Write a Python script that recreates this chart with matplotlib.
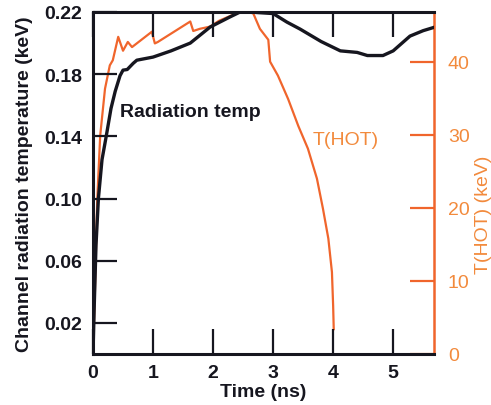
import matplotlib
matplotlib.use("Agg")
import matplotlib.pyplot as plt

# Radiation temperature (keV), left axis
rad_t = [0.0, 0.02, 0.05, 0.09, 0.15, 0.22, 0.30, 0.37, 0.45, 0.50, 0.57, 0.67, 0.73, 1.0,
         1.3, 1.62, 1.95, 2.28, 2.45, 2.6, 3.0, 3.23, 3.45, 3.8, 4.12, 4.4, 4.57, 4.83,
         5.0, 5.28, 5.5, 5.67]
rad_v = [0.0, 0.03, 0.07, 0.10, 0.125, 0.14, 0.158, 0.169, 0.179, 0.1826, 0.183, 0.187, 0.189,
         0.191, 0.195, 0.200, 0.2103, 0.2168, 0.22, 0.22, 0.219, 0.2135, 0.209, 0.201, 0.195,
         0.194, 0.192, 0.192, 0.195, 0.2045, 0.208, 0.21]

# T(HOT) (keV), right axis
hot_t = [0.0, 0.03, 0.07, 0.12, 0.2, 0.28, 0.33, 0.42, 0.5, 0.58, 0.65, 0.98, 1.03, 1.08,
         1.62, 1.67, 1.78, 1.95, 2.1, 2.5, 2.67, 2.78, 2.92, 2.95, 3.08, 3.25, 3.42, 3.58,
         3.73, 3.83, 3.92, 3.98, 4.0, 4.01]
hot_v = [0.0, 8.0, 21.0, 29.9, 36.3, 39.5, 40.2, 43.4, 41.5, 42.7, 42.0, 44.1, 42.5, 42.7,
         45.5, 44.2, 44.5, 44.8, 45.6, 47.0, 46.6, 44.5, 43.0, 40.0, 38.1, 34.9, 31.2, 28.1,
         24.0, 19.9, 15.8, 11.2, 6.6, 3.4]

x_ticks = [0, 1, 2, 3, 4, 5]
y_ticks = [0.02, 0.06, 0.10, 0.14, 0.18, 0.22]
y2_ticks = [0, 10, 20, 30, 40]

BLACK = '#16161f'
ORANGE = '#f0652c'
ORANGE_TXT = '#f28a3c'
FONT = 'Liberation Sans'
FS = 14

fig = plt.figure(figsize=(4.91, 4.06), dpi=100)
ax = fig.add_axes([93/491, 1-355/406, (434-93)/491, (355-13)/406])
ax2 = ax.twinx()

ax.plot(rad_t, rad_v, color=BLACK, lw=2.4, zorder=3)
ax2.plot(hot_t, hot_v, color=ORANGE, lw=1.6, zorder=2)
ax.set_zorder(ax2.get_zorder() + 1)
ax.patch.set_visible(False)

ax.set_xlim(0, 5.68)
ax.set_ylim(0, 0.22)
ax2.set_ylim(0, 46.8)

ax.set_xticks(x_ticks)
ax.set_xticklabels([str(v) for v in x_ticks], fontfamily=FONT, fontweight='bold', fontsize=FS)
ax.set_yticks(y_ticks)
ax.set_yticklabels([f"{v:.2f}" for v in y_ticks], fontfamily=FONT, fontweight='bold', fontsize=FS)
ax.tick_params(axis='x', direction='in', length=18, width=1.6, color=BLACK, pad=7,
               top=True, labelcolor=BLACK)
ax.tick_params(axis='y', direction='in', length=17, width=1.6, color=BLACK, pad=8,
               labelcolor=BLACK)

ax2.set_yticks(y2_ticks)
ax2.set_yticklabels([str(v) for v in y2_ticks], fontfamily=FONT, fontsize=FS)
ax2.tick_params(axis='y', direction='in', length=17, width=1.6, color=ORANGE, pad=10,
                labelcolor=ORANGE_TXT)

for s in ['left', 'bottom', 'top']:
    ax.spines[s].set_linewidth(2.2)
    ax.spines[s].set_color(BLACK)
ax.spines['right'].set_visible(False)
for s in ['left', 'bottom', 'top']:
    ax2.spines[s].set_visible(False)
ax2.spines['right'].set_color(ORANGE)
ax2.spines['right'].set_linewidth(1.8)

ax.set_xlabel('Time (ns)', fontfamily=FONT, fontweight='bold', fontsize=FS, color=BLACK, labelpad=2)
ax.set_ylabel('Channel radiation temperature (keV)', fontfamily=FONT, fontweight='bold',
              fontsize=FS, color=BLACK)
ax.yaxis.set_label_coords(-60/341, 0.5)
ax2.set_ylabel('T(HOT) (keV)', fontfamily=FONT, fontsize=FS, color=ORANGE_TXT)
ax2.yaxis.set_label_coords(1 + 41/341, 0.41)

ax.text(0.45, 0.156, 'Radiation temp', fontfamily=FONT, fontweight='bold',
        fontsize=FS, color=BLACK, va='center', ha='left')
ax.text(3.65, 0.138, 'T(HOT)', fontfamily=FONT, fontsize=FS, color=ORANGE_TXT,
        va='center', ha='left')

fig.savefig('out.png', dpi=100)
